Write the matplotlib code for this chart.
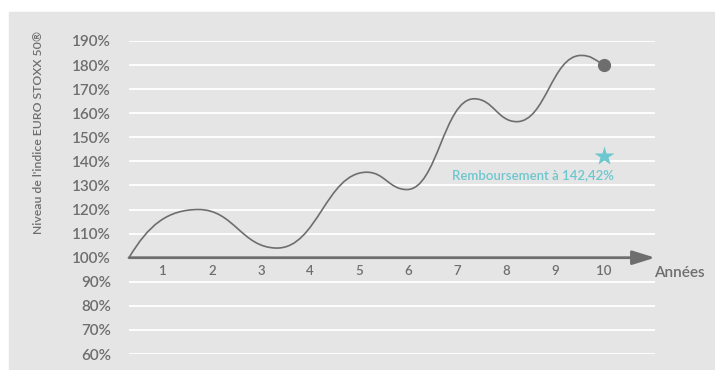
import matplotlib.pyplot as plt
from matplotlib.path import Path
from matplotlib.patches import PathPatch, Rectangle

plt.rcParams['font.family'] = ['Lato', 'DejaVu Sans']
plt.rcParams['font.weight'] = 'semibold'

# trajectoire de l'indice (points hauts / bas de la courbe)
annees = [0.31, 1.73, 3.33, 5.16, 5.98, 7.35, 8.22, 9.53, 10.0]
niveaux = [100, 120, 104, 135.5, 128.3, 166, 156.5, 184, 180]
# pentes imposées au départ et à l'arrivée (% par an)
pente_depart = 34
pente_fin = -12

niveaux_axe = [190, 180, 170, 160, 150, 140, 130, 120, 110, 100, 90, 80, 70, 60]
libelles_annees = ['1', '2', '3', '4', '5', '6', '7', '8', '9', '10']
remboursement = 142.42
annee_remboursement = 10

gris = '#6e6e6e'
turquoise = '#6cc7ce'

fig = plt.figure(figsize=(7.15, 3.7), dpi=100)
fig.patch.set_facecolor('white')
fig.patches.append(Rectangle((9 / 715, 0), 1, (370 - 12) / 370,
                             transform=fig.transFigure, color='#e5e5e5', zorder=-10))

ax = fig.add_axes([129 / 715, 16 / 370, 526 / 715, 313 / 370])
ax.set_facecolor('none')
ax.set_xlim(0.31, 11.04)
ax.set_ylim(60, 190)
for s in ax.spines.values():
    s.set_visible(False)

for v in niveaux_axe:
    if v != 100:
        ax.axhline(v, color='white', lw=1.3, zorder=1)

ax.set_xticks([])
ax.set_yticks(niveaux_axe)
ax.set_yticklabels([f'{v}%' for v in niveaux_axe], fontsize=11, color=gris)
ax.tick_params(axis='y', length=0, pad=13)

# axe des années avec flèche
ax.annotate('', xy=(11.04, 100), xytext=(0.31, 100),
            arrowprops=dict(arrowstyle='-|>,head_length=0.8,head_width=0.25',
                            color=gris, lw=2, mutation_scale=17,
                            shrinkA=0, shrinkB=0), zorder=3)
for i, lab in enumerate(libelles_annees):
    ax.text(i + 1, 94.6, lab, ha='center', va='center', fontsize=9.5, color=gris)
ax.text(11.02, 93.8, 'Années', ha='left', va='center', fontsize=11,
        color=gris, clip_on=False)

# courbe lissée : segments de Bézier entre extrêmes
verts = [(annees[0], niveaux[0])]
codes = [Path.MOVETO]
n = len(annees)
for i in range(n - 1):
    x0, y0 = annees[i], niveaux[i]
    x1, y1 = annees[i + 1], niveaux[i + 1]
    h = 0.45 * (x1 - x0)
    s0 = pente_depart if i == 0 else 0
    s1 = pente_fin if i == n - 2 else 0
    if i == 0:
        h0 = 0.28 * (x1 - x0)
    else:
        h0 = h
    verts += [(x0 + h0, y0 + s0 * h0), (x1 - h, y1 - s1 * h), (x1, y1)]
    codes += [Path.CURVE4] * 3
ax.add_patch(PathPatch(Path(verts, codes), fc='none', ec=gris, lw=1.2, zorder=4))

ax.plot(annees[-1], niveaux[-1], 'o', color=gris, ms=8.5, zorder=5)

ax.plot(annee_remboursement, remboursement, '*', color=turquoise, ms=15,
        mec='none', zorder=5)
ax.text(annee_remboursement - 1.45, 134.2,
        'Remboursement à ' + f'{remboursement:.2f}'.replace('.', ',') + '%',
        ha='center', va='center', fontsize=9.5, color=turquoise)

fig.text(39 / 715, 1 - 132 / 370, "Niveau de l'indice EURO STOXX 50®",
         rotation=90, ha='center', va='center', fontsize=8.8, color=gris)

fig.savefig('out.png', dpi=100)
